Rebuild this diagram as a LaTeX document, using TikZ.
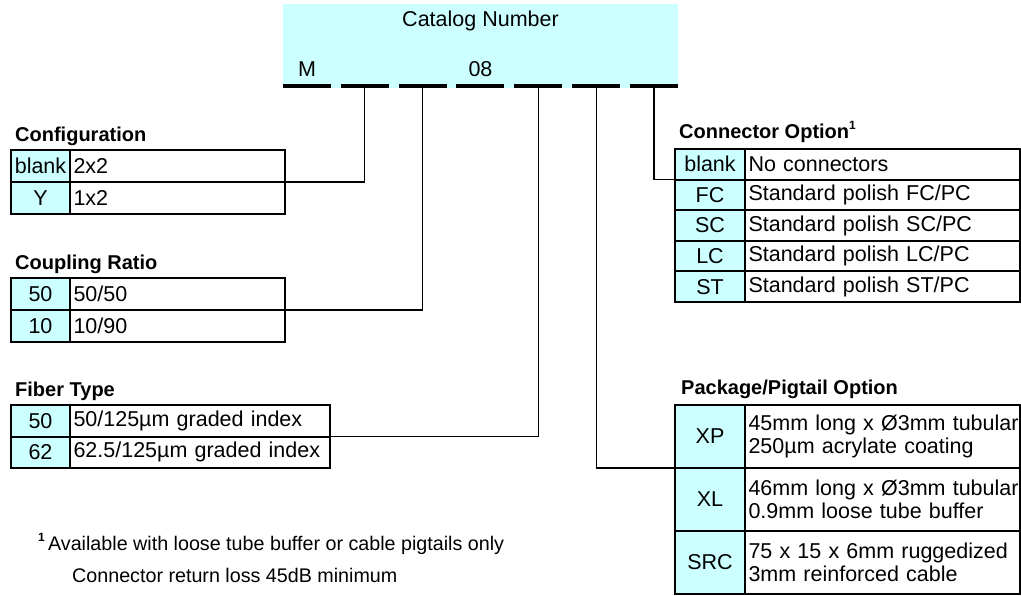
\documentclass[tikz,border=0pt]{standalone}
\usepackage{fontspec}
\setmainfont{Liberation Sans}
\usetikzlibrary{positioning}

\definecolor{cyanbg}{RGB}{204,255,255}
\newcommand{\cellfont}{\fontsize{21.5}{23}\selectfont}
\newcommand{\headfont}{\fontsize{20}{22}\selectfont\bfseries}
\newcommand{\notefont}{\fontsize{19.7}{22}\selectfont}
\newcommand{\supone}{\raisebox{0.45em}{\fontsize{12}{12}\selectfont\bfseries 1}}

\tikzset{
  code/.style={rectangle,draw=black,fill=cyanbg,line width=2pt,inner sep=0pt,outer sep=0pt,minimum width=59pt,font=\cellfont},
  desc/.style={rectangle,draw=black,fill=white,line width=2pt,inner xsep=3.5pt,inner ysep=0pt,outer sep=0pt,align=left,font=\cellfont},
  head/.style={anchor=base west,inner sep=0pt,font=\headfont},
  bar/.style={rectangle,fill=black,minimum width=48pt,minimum height=3.5pt,inner sep=0pt},
  link/.style={draw=black,line width=1.2pt},
}

\begin{document}
\begin{tikzpicture}[x=1pt,y=-1pt]
\useasboundingbox (0,0) rectangle (1021,596);

% catalog number box
\node[rectangle,fill=cyanbg,minimum width=395pt,minimum height=84.5pt,inner sep=0pt](catbox) at (480.5,46.25){};
\node[anchor=base,inner sep=0pt,font=\cellfont](cattitle) at (480.5,27){Catalog Number};
\node[bar](s1) at (307,86){};
\node[bar,right of=s1,node distance=57.83pt](s2){};
\node[bar,right of=s2,node distance=57.83pt](s3){};
\node[bar,right of=s3,node distance=57.83pt](s4){};
\node[bar,right of=s4,node distance=57.83pt](s5){};
\node[bar,right of=s5,node distance=57.83pt](s6){};
\node[bar,right of=s6,node distance=57.83pt](s7){};
\node[font=\cellfont,above of=s1,node distance=16.7pt](m){M};
\node[font=\cellfont,above of=s4,node distance=16.7pt](zero8){08};

% configuration
\node[head](cfgt) at (15,142){Configuration};
\node[code,minimum height=32pt](cfgc1) at (40.5,166){blank};
\node[code,minimum height=32pt,below of=cfgc1,node distance=32pt](cfgc2){Y};
\node[desc,minimum height=32pt,text width=208pt,right of=cfgc1,node distance=137pt](cfgd1){2x2};
\node[desc,minimum height=32pt,text width=208pt,right of=cfgc2,node distance=137pt](cfgd2){1x2};

% coupling ratio
\node[head](cpt) at (15,270){Coupling Ratio};
\node[code,minimum height=32pt](cpc1) at (40.5,294){50};
\node[code,minimum height=32pt,below of=cpc1,node distance=32pt](cpc2){10};
\node[desc,minimum height=32pt,text width=208pt,right of=cpc1,node distance=137pt](cpd1){50/50};
\node[desc,minimum height=32pt,text width=208pt,right of=cpc2,node distance=137pt](cpd2){10/90};

% fiber type
\node[head](fbt) at (15,396){Fiber Type};
\node[code,minimum height=31.5pt](fbc1) at (40.5,420.75){50};
\node[code,minimum height=31.5pt,below of=fbc1,node distance=31.5pt](fbc2){62};
\node[desc,minimum height=31.5pt,text width=253pt,right of=fbc1,node distance=159.5pt](fbd1){50/125µm graded index};
\node[desc,minimum height=31.5pt,text width=253pt,right of=fbc2,node distance=159.5pt](fbd2){62.5/125µm graded index};

% connector option
\node[head](cnt) at (679,139){Connector Option\supone};
\node[code,minimum width=70pt,minimum height=30.6pt](cnc1) at (710,164.3){blank};
\node[code,minimum width=70pt,minimum height=30.6pt,below of=cnc1,node distance=30.6pt](cnc2){FC};
\node[code,minimum width=70pt,minimum height=30.6pt,below of=cnc2,node distance=30.6pt](cnc3){SC};
\node[code,minimum width=70pt,minimum height=30.6pt,below of=cnc3,node distance=30.6pt](cnc4){LC};
\node[code,minimum width=70pt,minimum height=30.6pt,below of=cnc4,node distance=30.6pt](cnc5){ST};
\node[desc,minimum height=30.6pt,text width=268pt,right of=cnc1,node distance=172.5pt](cnd1){No connectors};
\node[desc,minimum height=30.6pt,text width=268pt,right of=cnc2,node distance=172.5pt](cnd2){Standard polish FC/PC};
\node[desc,minimum height=30.6pt,text width=268pt,right of=cnc3,node distance=172.5pt](cnd3){Standard polish SC/PC};
\node[desc,minimum height=30.6pt,text width=268pt,right of=cnc4,node distance=172.5pt](cnd4){Standard polish LC/PC};
\node[desc,minimum height=30.6pt,text width=268pt,right of=cnc5,node distance=172.5pt](cnd5){Standard polish ST/PC};

% package / pigtail option
\node[head](pkt) at (681,395){Package/Pigtail Option};
\node[code,minimum width=70pt,minimum height=63pt](pkc1) at (710,436.5){XP};
\node[code,minimum width=70pt,minimum height=63pt,below of=pkc1,node distance=63pt](pkc2){XL};
\node[code,minimum width=70pt,minimum height=63pt,below of=pkc2,node distance=63pt](pkc3){SRC};
\node[desc,minimum height=63pt,text width=268pt,right of=pkc1,node distance=172.5pt](pkd1){\mbox{45mm long x Ø3mm tubular}\\250µm acrylate coating};
\node[desc,minimum height=63pt,text width=268pt,right of=pkc2,node distance=172.5pt](pkd2){\mbox{46mm long x Ø3mm tubular}\\0.9mm loose tube buffer};
\node[desc,minimum height=63pt,text width=268pt,right of=pkc3,node distance=172.5pt](pkd3){75 x 15 x 6mm ruggedized\\3mm reinforced cable};

% links
\draw[link] (s2.south) |- (cfgd1.south east);
\draw[link] (s3.south) |- (cpd1.south east);
\draw[link] (s5.south) |- (fbd1.south east);
\draw[link] (s6.south) |- (pkc1.south west);
\draw[link] (s7.south) |- (cnc1.south west);

% footnote
\node[anchor=base west,inner sep=0pt,font=\notefont](note1) at (38,550){\supone\,Available with loose tube buffer or cable pigtails only};
\node[anchor=base west,inner sep=0pt,font=\notefont](note2) at (72,582){Connector return loss 45dB minimum};
\end{tikzpicture}
\end{document}
